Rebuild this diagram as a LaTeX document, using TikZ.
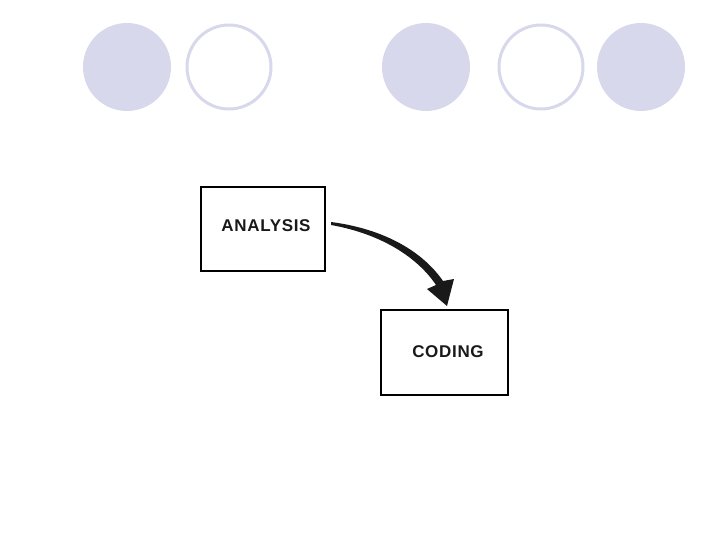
\documentclass[tikz,border=0pt]{standalone}
\usepackage{fontspec}
\usetikzlibrary{calc}
\setmainfont{Liberation Sans}
\definecolor{dotfill}{HTML}{D8D8EC}
\tikzset{
  dotfull/.style={circle, fill=dotfill, minimum size=88pt, inner sep=0pt},
  dotring/.style={circle, draw=dotfill, line width=3pt, fill=white, minimum size=84pt, inner sep=0pt},
  stagebox/.style={draw=black, line width=2pt, minimum width=124pt, minimum height=84pt, inner sep=0pt},
  stagetext/.style={font=\fontsize{17}{17}\selectfont\bfseries\addfontfeatures{LetterSpace=4}, text=black!90}
}
\begin{document}
\begin{tikzpicture}[x=1pt, y=-1pt]
\useasboundingbox (0,0) rectangle (720,540);
% decorative circles
\node[dotfull] (c1) at (127,67) {};
\node[dotring] (c2) at (229,67) {};
\node[dotfull] (c3) at (426,67) {};
\node[dotring] (c4) at (541,67) {};
\node[dotfull] (c5) at (641,67) {};
% boxes
\node[stagebox] (ana) at (263,229) {};
\node[stagetext] (anat) at (266,226) {ANALYSIS};
\node[stagebox, minimum width=127pt, minimum height=85pt] (cod) at (444.5,352.5) {};
\node[stagetext] (codt) at (448,352) {CODING};
% curved tapered arrow
\coordinate (s) at ($(ana.east)+(5,-7)$);
\coordinate (tip) at (447,306);
\fill[black!90] (s) .. controls (385,229) and (423,252) .. (443,281)
  -- (454,279) -- (tip) -- (427,289)
  -- (436,285) .. controls (418,258) and (382,234) .. ($(s)+(0,3)$) -- cycle;
\end{tikzpicture}
\end{document}
